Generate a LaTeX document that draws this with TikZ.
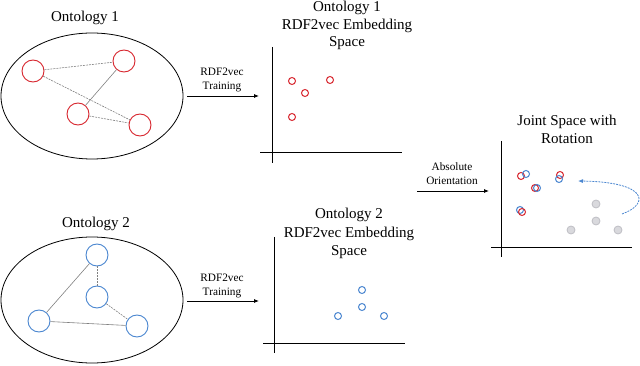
\documentclass[tikz,border=0pt]{standalone}
\usepackage{fontspec}
\setmainfont{Liberation Serif}
\usetikzlibrary{arrows.meta}
\definecolor{ored}{HTML}{D7262E}
\definecolor{oblue}{HTML}{4A86D0}
\definecolor{dotgray}{HTML}{D9D9DD}
\definecolor{dotedge}{HTML}{BEBEC4}
\tikzset{
  title/.style={font=\fontsize{15}{18}\selectfont, align=center, inner sep=0pt},
  small/.style={font=\fontsize{11.3}{14}\selectfont, align=center, inner sep=0pt},
  onto/.style={draw=black, line width=0.8pt},
  bignode/.style={circle, draw=#1, line width=0.9pt, minimum size=22pt, inner sep=0pt},
  dot/.style={circle, draw=#1, line width=1pt, minimum size=7pt, inner sep=0pt},
  gdot/.style={circle, draw=dotedge, fill=dotgray, line width=0.8pt, minimum size=8pt, inner sep=0pt},
  edged/.style={draw=gray, line width=0.6pt, dashed, dash pattern=on 2pt off 1pt},
  edges/.style={draw=gray, line width=0.6pt},
  axis/.style={draw=black, line width=1pt},
  flow/.style={draw=black, line width=0.8pt, -{Latex[length=5pt,width=4pt]}},
}
\begin{document}
\begin{tikzpicture}[x=1pt,y=-1pt]
\useasboundingbox (0,0) rectangle (640,366);
% ---------- Ontology 1 ----------
\node[title] (t1) at (85,18) {Ontology 1};
\draw[onto] (92,96) ellipse [x radius=91, y radius=63];
\node[bignode=ored] (a1) at (33,71) {};
\node[bignode=ored] (a2) at (124,61) {};
\node[bignode=ored] (a3) at (78,114) {};
\node[bignode=ored] (a4) at (140,125) {};
\draw[edged] (a1) -- (a2);
\draw[edges] (a2) -- (a3);
\draw[edged] (a1) -- (a4);
\draw[edged] (a3) -- (a4);
% ---------- Ontology 2 ----------
\node[title] (t2) at (96,224) {Ontology 2};
\draw[onto] (92,300) ellipse [x radius=91, y radius=63];
\node[bignode=oblue] (b1) at (97,255) {};
\node[bignode=oblue] (b2) at (97,297) {};
\node[bignode=oblue] (b3) at (39,321) {};
\node[bignode=oblue] (b4) at (137,326) {};
\draw[edged] (b1) -- (b2);
\draw[edges] (b1) -- (b3);
\draw[edged] (b2) -- (b4);
\draw[edges] (b3) -- (b4);
% ---------- training arrows ----------
\coordinate (s1) at (187,96); \coordinate (e1) at (259,96);
\draw[flow] (s1) -- (e1);
\node[small] (l1) at (222,79.5) {RDF2vec\\Training};
\coordinate (s2) at (187,301); \coordinate (e2) at (259,301);
\draw[flow] (s2) -- (e2);
\node[small] (l2) at (222,285.5) {RDF2vec\\Training};
% ---------- Embedding space 1 ----------
\node[title, font=\fontsize{15}{17.5}\selectfont] (p1t) at (347,25.5) {Ontology 1\\RDF2vec Embedding\\Space};
\coordinate (v1a) at (272,47); \coordinate (v1b) at (272,163);
\coordinate (h1a) at (260,153); \coordinate (h1b) at (402,153);
\draw[axis] (v1a) -- (v1b);
\draw[axis] (h1a) -- (h1b);
\node[dot=ored] (r1) at (292,81) {};
\node[dot=ored] (r2) at (330,80) {};
\node[dot=ored] (r3) at (305,93) {};
\node[dot=ored] (r4) at (292,117) {};
% ---------- Embedding space 2 ----------
\node[title, font=\fontsize{15}{18.5}\selectfont] (p2t) at (349,233.5) {Ontology 2\\RDF2vec Embedding\\Space};
\coordinate (v2a) at (274,237); \coordinate (v2b) at (274,353);
\coordinate (h2a) at (263,343); \coordinate (h2b) at (405,343);
\draw[axis] (v2a) -- (v2b);
\draw[axis] (h2a) -- (h2b);
\node[dot=oblue] (u1) at (362,290) {};
\node[dot=oblue] (u2) at (362,307) {};
\node[dot=oblue] (u3) at (338,316) {};
\node[dot=oblue] (u4) at (384,316) {};
% ---------- Absolute orientation ----------
\coordinate (s3) at (417,191); \coordinate (e3) at (489,191);
\draw[flow] (s3) -- (e3);
\node[small] (l3) at (452,174) {Absolute\\Orientation};
% ---------- Joint space ----------
\node[title] (p3t) at (567,129) {Joint Space with\\Rotation};
\coordinate (v3a) at (501,141); \coordinate (v3b) at (501,257);
\coordinate (h3a) at (491,248); \coordinate (h3b) at (632,248);
\draw[axis] (v3a) -- (v3b);
\draw[axis] (h3a) -- (h3b);
\node[gdot] (g1) at (596,204) {};
\node[gdot] (g2) at (596,221) {};
\node[gdot] (g3) at (571,230) {};
\node[gdot] (g4) at (618,230) {};
\node[dot=ored] (jr1) at (521,176) {};
\node[dot=oblue] (jb1) at (526,174) {};
\node[dot=ored] (jr2) at (560,175) {};
\node[dot=oblue] (jb2) at (559,179) {};
\node[dot=ored] (jr3) at (535,188) {};
\node[dot=oblue] (jb3) at (537,188) {};
\node[dot=oblue] (jb4) at (520,210) {};
\node[dot=ored] (jr4) at (522,212) {};
\coordinate (cs) at (622,214);
\coordinate (ce) at (578,181);
\draw[oblue, line width=0.8pt, dashed, dash pattern=on 2pt off 1pt, -{Latex[length=5pt,width=4pt]}]
  (cs) .. controls (650,204) and (648,182) .. (ce);
\end{tikzpicture}
\end{document}
